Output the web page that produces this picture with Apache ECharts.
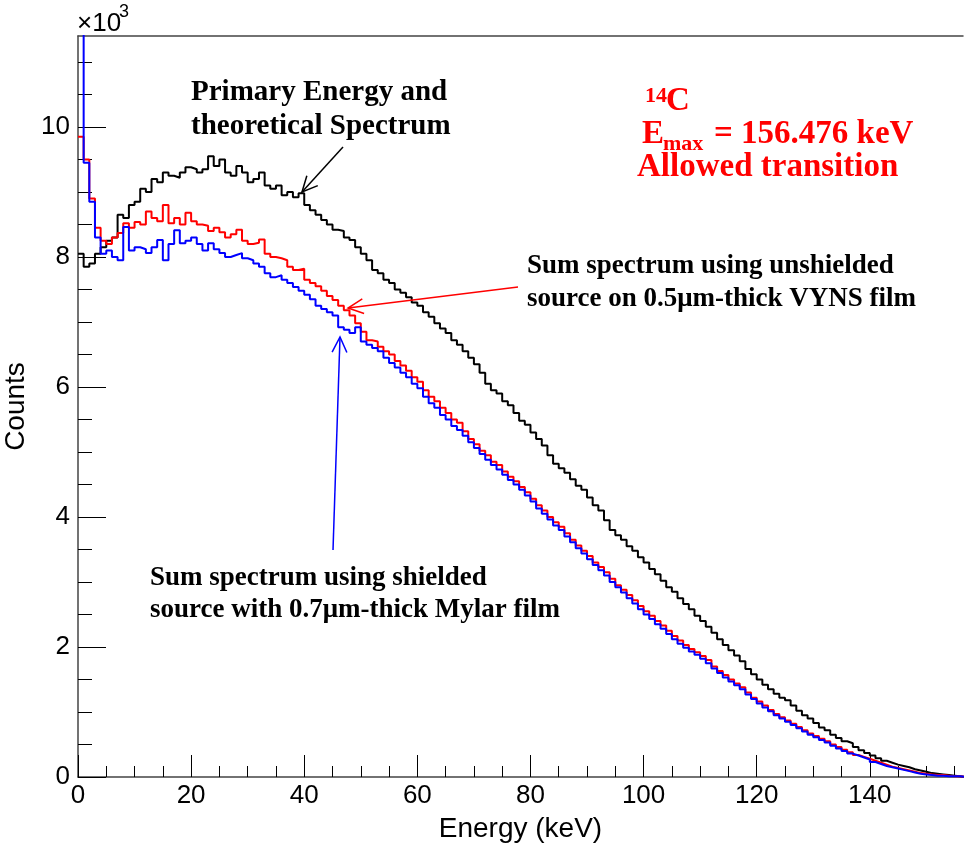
<!DOCTYPE html>
<html>
<head>
<meta charset="utf-8">
<script src="https://cdn.jsdelivr.net/npm/echarts@6/dist/echarts.min.js"></script>
<style>
  html, body { margin: 0; padding: 0; background: #fff; }
  #chart { width: 964px; height: 845px; }
</style>
</head>
<body>
<div id="chart"></div>
<script>
// histogram bin width in keV, values in units of 10^3 counts
const binWidth = 1;
const eMax = 156.476;

// primary energy / theoretical spectrum (black)
const theory = [
  8.05, 7.85, 7.9, 8.05, 8.15, 8.25, 8.3, 8.65, 8.6, 8.8,
  8.85, 9.05, 9.0, 9.2, 9.15, 9.3, 9.25, 9.22, 9.3, 9.38,
  9.35, 9.3, 9.35, 9.55, 9.4, 9.5, 9.3, 9.25, 9.4, 9.3,
  9.15, 9.2, 9.3, 9.1, 9.05, 9.1, 8.95, 9.0, 8.92, 8.98,
  8.8, 8.72, 8.65, 8.57, 8.5, 8.42, 8.4, 8.3, 8.26, 8.15,
  8.05, 7.95, 7.8, 7.75, 7.65, 7.6, 7.5, 7.45, 7.38, 7.3,
  7.25, 7.15, 7.08, 6.98, 6.9, 6.83, 6.72, 6.65, 6.55, 6.45,
  6.35, 6.22, 6.05, 5.95, 5.9, 5.78, 5.72, 5.6, 5.48, 5.42,
  5.3, 5.2, 5.1, 4.95, 4.82, 4.75, 4.68, 4.58, 4.48, 4.42,
  4.3, 4.18, 4.1, 3.95, 3.8, 3.72, 3.65, 3.55, 3.48, 3.38,
  3.3, 3.2, 3.12, 3.02, 2.92, 2.85, 2.75, 2.66, 2.58, 2.48,
  2.4, 2.31, 2.22, 2.12, 2.03, 1.95, 1.87, 1.78, 1.66, 1.58,
  1.5, 1.42, 1.35, 1.28, 1.22, 1.18, 1.1, 1.02, 0.95, 0.9,
  0.83, 0.76, 0.72, 0.65, 0.6, 0.55, 0.52, 0.46, 0.41, 0.37,
  0.33, 0.29, 0.25, 0.22, 0.19, 0.17, 0.15, 0.12, 0.1, 0.08,
  0.06, 0.05, 0.04, 0.03, 0.02, 0.01, 0.0
];

// unshielded source on VYNS film (red)
const unshielded = [
  9.85, 9.5, 8.9, 8.45, 8.25, 8.2, 8.3, 8.37, 8.52, 8.45,
  8.54, 8.5, 8.7, 8.6, 8.55, 8.8, 8.52, 8.6, 8.5, 8.68,
  8.55, 8.5, 8.48, 8.4, 8.45, 8.38, 8.3, 8.35, 8.42, 8.25,
  8.2, 8.22, 8.27, 8.05, 8.0, 7.98, 7.95, 7.85, 7.8, 7.82,
  7.65, 7.6, 7.55, 7.48, 7.4, 7.34, 7.25, 7.18, 7.1, 6.98,
  6.85, 6.72, 6.7, 6.62, 6.55, 6.5, 6.4, 6.33, 6.25, 6.15,
  6.08, 5.95, 5.85, 5.78, 5.68, 5.6, 5.5, 5.45, 5.32, 5.2,
  5.12, 5.02, 4.95, 4.85, 4.8, 4.7, 4.62, 4.55, 4.46, 4.38,
  4.28, 4.18, 4.1, 4.0, 3.92, 3.85, 3.75, 3.65, 3.56, 3.48,
  3.4, 3.3, 3.23, 3.15, 3.05, 2.95, 2.88, 2.8, 2.72, 2.63,
  2.55, 2.48, 2.4, 2.33, 2.25, 2.17, 2.1, 2.03, 1.97, 1.92,
  1.86, 1.8, 1.7, 1.63, 1.57, 1.5, 1.44, 1.38, 1.3, 1.22,
  1.16, 1.1, 1.03, 0.97, 0.92, 0.87, 0.82, 0.77, 0.72, 0.67,
  0.63, 0.59, 0.55, 0.5, 0.46, 0.42, 0.38, 0.34, 0.31, 0.28,
  0.25, 0.22, 0.19, 0.16, 0.14, 0.12, 0.1, 0.08, 0.06, 0.05,
  0.04, 0.03, 0.03, 0.02, 0.01, 0.01, 0.0
];

// shielded source with Mylar film (blue)
const shielded = [
  11.6, 9.45, 8.85, 8.3, 8.05, 8.1, 8.0, 7.95, 8.46, 8.1,
  8.15, 8.12, 8.06, 8.15, 8.26, 7.95, 8.2, 8.41, 8.21, 8.25,
  8.3, 8.2, 8.1, 8.21, 8.12, 8.06, 8.0, 8.03, 8.06, 7.98,
  7.95, 7.9, 7.85, 7.75, 7.69, 7.72, 7.65, 7.6, 7.54, 7.48,
  7.42, 7.35, 7.25, 7.2, 7.15, 7.1, 6.92, 6.88, 6.83, 6.92,
  6.7, 6.65, 6.6, 6.55, 6.45, 6.37, 6.3, 6.22, 6.15, 6.05,
  5.98, 5.85, 5.75, 5.68, 5.57, 5.5, 5.4, 5.34, 5.25, 5.15,
  5.06, 4.97, 4.88, 4.8, 4.73, 4.65, 4.57, 4.5, 4.42, 4.33,
  4.24, 4.13, 4.05, 3.96, 3.87, 3.8, 3.7, 3.61, 3.52, 3.44,
  3.35, 3.26, 3.18, 3.1, 3.0, 2.92, 2.84, 2.75, 2.67, 2.58,
  2.5, 2.43, 2.35, 2.28, 2.2, 2.12, 2.05, 1.99, 1.93, 1.88,
  1.82, 1.75, 1.67, 1.6, 1.53, 1.47, 1.41, 1.35, 1.27, 1.2,
  1.13, 1.07, 1.01, 0.95, 0.9, 0.85, 0.8, 0.75, 0.7, 0.65,
  0.61, 0.57, 0.53, 0.48, 0.44, 0.4, 0.36, 0.33, 0.3, 0.27,
  0.23, 0.2, 0.17, 0.15, 0.13, 0.11, 0.09, 0.07, 0.05, 0.04,
  0.03, 0.02, 0.02, 0.01, 0.01, 0.01, 0.0
];

const xMajor = [0, 20, 40, 60, 80, 100, 120, 140];
const xMinor = [0, 5, 10, 15, 20, 25, 30, 35, 40, 45, 50, 55, 60, 65, 70, 75,
  80, 85, 90, 95, 100, 105, 110, 115, 120, 125, 130, 135, 140, 145, 150, 155];
const yMajor = [0, 2, 4, 6, 8, 10];
const yMinor = [0, 0.5, 1, 1.5, 2, 2.5, 3, 3.5, 4, 4.5, 5, 5.5, 6, 6.5, 7, 7.5,
  8, 8.5, 9, 9.5, 10, 10.5, 11];

// histogram -> step points (lower bin edges + closing edge)
function toSteps(vals) {
  const pts = vals.map((v, i) => [i * binWidth, v]);
  pts.push([vals.length * binWidth, vals[vals.length - 1]]);
  return pts;
}

const sans = '"Liberation Sans", Arial, sans-serif';
const serifBold = (size) => 'bold ' + size + 'px "Liberation Serif", "Times New Roman", serif';

function txt(x, y, text, font, color) {
  return { type: 'text', x: x, y: y, z: 100,
    style: { text: text, font: font, fill: color || '#000', align: 'left', verticalAlign: 'middle' } };
}

function arrow(x1, y1, x2, y2, color) {
  const a = Math.atan2(y1 - y2, x1 - x2);
  const len = 17, spread = 0.45;
  return [
    { type: 'line', z: 100, shape: { x1: x1, y1: y1, x2: x2, y2: y2 },
      style: { stroke: color, lineWidth: 1.5 } },
    { type: 'polyline', z: 100,
      shape: { points: [
        [x2 + len * Math.cos(a + spread), y2 + len * Math.sin(a + spread)],
        [x2, y2],
        [x2 + len * Math.cos(a - spread), y2 + len * Math.sin(a - spread)]
      ] },
      style: { stroke: color, lineWidth: 1.5, fill: null } }
  ];
}

const chart = echarts.init(document.getElementById('chart'));

const axisColor = '#444';

chart.setOption({
  animation: false,
  backgroundColor: '#fff',
  grid: { left: 78, right: 1, top: 36, bottom: 68, outerBoundsMode: 'none', containLabel: false },
  xAxis: [
    {
      type: 'value', position: 'bottom', min: 0, max: eMax,
      name: 'Energy (keV)', nameLocation: 'middle', nameGap: 38,
      nameTextStyle: { fontFamily: sans, fontSize: 28, color: '#000' },
      axisLine: { show: true, lineStyle: { color: axisColor, width: 1.5 } },
      axisTick: { show: true, inside: true, length: 22, customValues: xMajor,
        lineStyle: { color: '#000', width: 1 } },
      axisLabel: { customValues: xMajor, fontFamily: sans, fontSize: 26, color: '#000', margin: 6 },
      splitLine: { show: false }
    },
    {
      type: 'value', position: 'bottom', min: 0, max: eMax,
      axisLine: { show: false },
      axisTick: { show: true, inside: true, length: 11, customValues: xMinor,
        lineStyle: { color: '#000', width: 1 } },
      axisLabel: { show: false },
      splitLine: { show: false }
    },
    {
      type: 'value', position: 'top', min: 0, max: eMax,
      axisLine: { show: true, lineStyle: { color: axisColor, width: 1.5 } },
      axisTick: { show: false },
      axisLabel: { show: false },
      splitLine: { show: false }
    }
  ],
  yAxis: [
    {
      type: 'value', position: 'left', min: 0, max: 11.4,
      name: 'Counts', nameLocation: 'middle', nameGap: 34,
      nameTextStyle: { fontFamily: sans, fontSize: 28, color: '#000' },
      axisLine: { show: true, lineStyle: { color: axisColor, width: 1.5 } },
      axisTick: { show: true, inside: true, length: 28, customValues: yMajor,
        lineStyle: { color: '#000', width: 1 } },
      axisLabel: { customValues: yMajor, fontFamily: sans, fontSize: 26, color: '#000', margin: 8 },
      splitLine: { show: false }
    },
    {
      type: 'value', position: 'left', min: 0, max: 11.4,
      axisLine: { show: false },
      axisTick: { show: true, inside: true, length: 14, customValues: yMinor,
        lineStyle: { color: '#000', width: 1 } },
      axisLabel: { show: false },
      splitLine: { show: false }
    }
  ],
  series: [
    { name: 'Primary', type: 'line', step: 'end', showSymbol: false, data: toSteps(theory),
      lineStyle: { color: '#000', width: 2 }, itemStyle: { color: '#000' } },
    { name: 'Unshielded', type: 'line', step: 'end', showSymbol: false, data: toSteps(unshielded),
      lineStyle: { color: '#ff0000', width: 2 }, itemStyle: { color: '#ff0000' } },
    { name: 'Shielded', type: 'line', step: 'end', showSymbol: false, data: toSteps(shielded),
      lineStyle: { color: '#0000ff', width: 2 }, itemStyle: { color: '#0000ff' } }
  ],
  graphic: [
    txt(77, 24, '×10', '26px ' + sans),
    txt(119, 12, '3', '18px ' + sans),

    txt(191, 93, 'Primary Energy and', serifBold(29)),
    txt(191, 127, 'theoretical Spectrum', serifBold(29)),
    ...arrow(343, 147, 302, 192, '#000'),

    txt(527, 266, 'Sum spectrum using unshielded', serifBold(27)),
    txt(527, 299, 'source on 0.5μm-thick VYNS film', serifBold(27)),
    ...arrow(518, 287, 348, 308, '#ff0000'),

    txt(150, 578, 'Sum spectrum using shielded', serifBold(27)),
    txt(150, 610, 'source with 0.7μm-thick Mylar film', serifBold(27)),
    ...arrow(333, 550, 340, 337, '#0000ff'),

    txt(645, 96, '14', serifBold(22), '#ff0000'),
    txt(666, 101, 'C', serifBold(33), '#ff0000'),
    txt(642, 134, 'E', serifBold(33), '#ff0000'),
    txt(663, 144, 'max', serifBold(22), '#ff0000'),
    txt(714, 134, '= 156.476 keV', serifBold(33), '#ff0000'),
    txt(637, 167, 'Allowed transition', serifBold(33), '#ff0000')
  ]
});

window.addEventListener('resize', () => chart.resize());
</script>
</body>
</html>
